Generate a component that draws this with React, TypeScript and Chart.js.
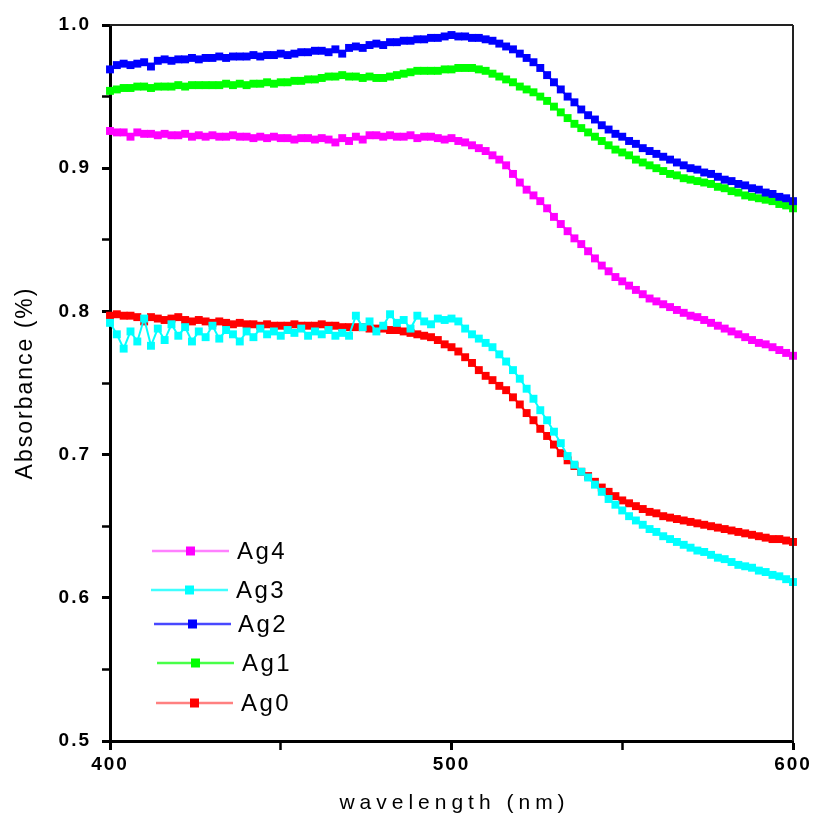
import React, { useEffect, useRef } from "react";
import { Chart, registerables } from "chart.js";

Chart.register(...registerables);

// ---------- data ----------
const WAVELENGTHS: number[] = Array.from({ length: 101 }, (_, i) => 400 + i * 2);

const SERIES_LABELS = ["Ag4", "Ag3", "Ag2", "Ag1", "Ag0"];
const SERIES_COLORS = ["#ff00ff", "#00ffff", "#0000ff", "#00ff00", "#ff0000"];
const LEGEND_LINE_COLORS = ["#ff80ff", "#40ffff", "#4848ff", "#48ff48", "#ff8080"];

const AG4 = [
  0.926, 0.925, 0.925, 0.922, 0.925, 0.924, 0.924, 0.923, 0.924, 0.923,
  0.923, 0.924, 0.922, 0.923, 0.922, 0.923, 0.922, 0.922, 0.923, 0.922,
  0.922, 0.921, 0.922, 0.921, 0.922, 0.921, 0.921, 0.920, 0.921, 0.921,
  0.920, 0.921, 0.920, 0.918, 0.921, 0.919, 0.922, 0.920, 0.923, 0.923,
  0.922, 0.923, 0.922, 0.922, 0.923, 0.921, 0.922, 0.922, 0.921, 0.920,
  0.921, 0.919, 0.918, 0.916, 0.914, 0.912, 0.909, 0.906, 0.902, 0.896,
  0.890, 0.885, 0.881, 0.877, 0.872, 0.866, 0.861, 0.856, 0.851, 0.847,
  0.842, 0.837, 0.832, 0.828, 0.824, 0.821, 0.818, 0.815, 0.812, 0.809,
  0.807, 0.805, 0.803, 0.801, 0.799, 0.797, 0.796, 0.794, 0.792, 0.790,
  0.788, 0.786, 0.784, 0.782, 0.780, 0.778, 0.777, 0.775, 0.773, 0.771,
  0.769,
];

const AG3 = [
  0.792, 0.784, 0.774, 0.786, 0.779, 0.795, 0.776, 0.788, 0.780, 0.791,
  0.783, 0.789, 0.779, 0.786, 0.782, 0.790, 0.781, 0.787, 0.784, 0.779,
  0.786, 0.782, 0.788, 0.784, 0.786, 0.783, 0.787, 0.785, 0.788, 0.783,
  0.786, 0.784, 0.787, 0.783, 0.785, 0.783, 0.797, 0.789, 0.793, 0.786,
  0.790, 0.798, 0.792, 0.794, 0.788, 0.797, 0.793, 0.791, 0.795, 0.794,
  0.795, 0.793, 0.788, 0.784, 0.781, 0.778, 0.775, 0.770, 0.765, 0.759,
  0.753, 0.746, 0.739, 0.731, 0.724, 0.716, 0.708, 0.699, 0.693, 0.688,
  0.684, 0.679, 0.674, 0.669, 0.665, 0.661, 0.657, 0.654, 0.651, 0.648,
  0.646, 0.643, 0.641, 0.639, 0.637, 0.635, 0.633, 0.632, 0.630, 0.628,
  0.627, 0.625, 0.623, 0.622, 0.621, 0.619, 0.618, 0.616, 0.615, 0.613,
  0.611,
];

const AG2 = [
  0.969, 0.972, 0.973, 0.972, 0.973, 0.974, 0.971, 0.975, 0.976, 0.975,
  0.976, 0.976, 0.977, 0.976, 0.977, 0.977, 0.978, 0.977, 0.978, 0.978,
  0.978, 0.979, 0.978, 0.979, 0.979, 0.980, 0.979, 0.980, 0.981, 0.981,
  0.982, 0.982, 0.981, 0.983, 0.980, 0.984, 0.985, 0.984, 0.986, 0.987,
  0.986, 0.988, 0.988, 0.989, 0.989, 0.990, 0.990, 0.991, 0.991, 0.992,
  0.993, 0.992, 0.992, 0.991, 0.991, 0.990, 0.989, 0.987, 0.985, 0.983,
  0.980, 0.977, 0.974, 0.970, 0.965, 0.960, 0.955, 0.950, 0.946, 0.941,
  0.937, 0.934, 0.930, 0.927, 0.924, 0.922, 0.919, 0.917, 0.914, 0.912,
  0.910, 0.908, 0.906, 0.904, 0.902, 0.900, 0.899, 0.897, 0.896, 0.894,
  0.892, 0.891, 0.889, 0.888, 0.886, 0.885, 0.883, 0.882, 0.880, 0.879,
  0.877,
];

const AG1 = [
  0.954, 0.955, 0.956, 0.956, 0.957, 0.957, 0.956, 0.957, 0.957, 0.957,
  0.958, 0.957, 0.958, 0.958, 0.958, 0.958, 0.958, 0.959, 0.958, 0.959,
  0.958, 0.959, 0.959, 0.960, 0.959, 0.960, 0.960, 0.961, 0.961, 0.962,
  0.962, 0.963, 0.964, 0.964, 0.965, 0.964, 0.964, 0.963, 0.964, 0.963,
  0.963, 0.964, 0.965, 0.966, 0.967, 0.968, 0.968, 0.968, 0.968, 0.969,
  0.969, 0.970, 0.970, 0.970, 0.969, 0.968, 0.966, 0.964, 0.962, 0.960,
  0.957, 0.955, 0.953, 0.950, 0.947, 0.943, 0.939, 0.935, 0.931, 0.928,
  0.925, 0.922, 0.919, 0.916, 0.913, 0.911, 0.909, 0.906, 0.904, 0.902,
  0.900, 0.898, 0.896, 0.895, 0.893, 0.892, 0.891, 0.890, 0.889, 0.887,
  0.886, 0.884, 0.883, 0.881, 0.880, 0.879, 0.878, 0.877, 0.875, 0.874,
  0.872,
];

const AG0 = [
  0.797, 0.798, 0.797, 0.797, 0.796, 0.793, 0.796, 0.795, 0.794, 0.795,
  0.796, 0.794, 0.793, 0.794, 0.793, 0.792, 0.793, 0.792, 0.791, 0.792,
  0.791, 0.791, 0.790, 0.791, 0.790, 0.790, 0.790, 0.791, 0.790, 0.790,
  0.790, 0.791, 0.790, 0.790, 0.789, 0.789, 0.789, 0.789, 0.788, 0.788,
  0.788, 0.787, 0.787, 0.786, 0.785, 0.784, 0.783, 0.782, 0.780, 0.777,
  0.775, 0.772, 0.768, 0.764, 0.759, 0.755, 0.752, 0.748, 0.745, 0.740,
  0.735, 0.729, 0.724, 0.718, 0.713, 0.707, 0.701, 0.696, 0.692, 0.688,
  0.685, 0.681, 0.677, 0.674, 0.671, 0.668, 0.666, 0.664, 0.662, 0.660,
  0.659, 0.657, 0.656, 0.655, 0.654, 0.653, 0.652, 0.651, 0.650, 0.649,
  0.648, 0.647, 0.646, 0.645, 0.644, 0.643, 0.642, 0.641, 0.641, 0.640,
  0.639,
];

const SERIES_VALUES = [AG4, AG3, AG2, AG1, AG0];

const X_MIN = 400;
const X_MAX = 600;
const X_STEP = 50;
const X_TICK_LABELS = [400, 500, 600];

const Y_MIN = 0.5;
const Y_MAX = 1.0;
const Y_STEP = 0.05;
const Y_TICK_LABELS = [0.5, 0.6, 0.7, 0.8, 0.9, 1.0];

const X_TITLE = "wavelength (nm)";
const Y_TITLE = "Absorbance (%)";

// legend placement (pixels relative to the plot area's top-left corner)
const LEGEND_LAYOUT = [
  { x0: 42, x1: 119, tx: 127, dy: 526 },
  { x0: 41, x1: 118, tx: 126, dy: 565 },
  { x0: 44, x1: 121, tx: 128, dy: 599 },
  { x0: 47, x1: 124, tx: 132, dy: 638 },
  { x0: 46, x1: 123, tx: 131, dy: 678 },
];

const FONT = "'Liberation Sans', Arial, Helvetica, sans-serif";

const isLabelled = (v: number, labels: number[]) =>
  labels.some((l) => Math.abs(l - v) < 1e-6);

const framePlugin = {
  id: "frameAndLegend",
  beforeDraw(chart: any) {
    chart.ctx.letterSpacing = "2px";
  },
  afterDraw(chart: any) {
    const ctx = chart.ctx as CanvasRenderingContext2D;
    const xs = chart.scales.x;
    const ys = chart.scales.y;
    const left = xs.getPixelForValue(X_MIN);
    const right = xs.getPixelForValue(X_MAX);
    const top = ys.getPixelForValue(Y_MAX);
    const bottom = ys.getPixelForValue(Y_MIN);
    ctx.save();
    (ctx as any).letterSpacing = "0px";
    // top and right frame lines
    ctx.strokeStyle = "#222";
    ctx.lineWidth = 2;
    ctx.beginPath();
    ctx.moveTo(left, top);
    ctx.lineTo(right, top);
    ctx.stroke();
    ctx.beginPath();
    ctx.moveTo(right, top);
    ctx.lineTo(right, bottom);
    ctx.stroke();

    // x-axis title (wide letter spacing)
    ctx.fillStyle = "#000";
    (ctx as any).letterSpacing = "5px";
    ctx.font = `21px ${FONT}`;
    ctx.textAlign = "center";
    ctx.textBaseline = "middle";
    ctx.fillText(X_TITLE, (left + right) / 2 + 3, chart.height - 15);

    // legend
    chart.data.datasets.forEach((ds: any, i: number) => {
      const pos = LEGEND_LAYOUT[i];
      const y = top + pos.dy;
      const x0 = left + pos.x0;
      const x1 = left + pos.x1;
      ctx.strokeStyle = LEGEND_LINE_COLORS[i];
      ctx.lineWidth = 2.5;
      ctx.beginPath();
      ctx.moveTo(x0, y);
      ctx.lineTo(x1, y);
      ctx.stroke();
      const mx = (x0 + x1) / 2;
      ctx.fillStyle = ds.backgroundColor;
      ctx.fillRect(mx - 4.5, y - 4.5, 9, 9);
      ctx.fillStyle = "#000";
      (ctx as any).letterSpacing = "2.5px";
      ctx.font = `24px ${FONT}`;
      ctx.textAlign = "left";
      ctx.textBaseline = "middle";
      ctx.fillText(ds.label, left + pos.tx, y + 1);
    });
    ctx.restore();
    (ctx as any).letterSpacing = "0px";
  },
};

export default function App() {
  const canvasRef = useRef<HTMLCanvasElement | null>(null);

  useEffect(() => {
    document.body.style.margin = "0";
    const canvas = canvasRef.current;
    if (!canvas) return;

    const datasets = SERIES_LABELS.map((label, i) => ({
      label,
      data: WAVELENGTHS.map((x, j) => ({ x, y: SERIES_VALUES[i][j] })),
      borderColor: SERIES_COLORS[i],
      backgroundColor: SERIES_COLORS[i],
      borderWidth: 2,
      pointStyle: "rect" as const,
      pointRadius: 5.6,
      pointBorderWidth: 0,
      pointBackgroundColor: SERIES_COLORS[i],
      tension: 0,
      clip: 4,
    }));

    const chart = new Chart(canvas, {
      type: "line",
      data: { datasets },
      options: {
        responsive: false,
        animation: false,
        events: [],
        layout: { padding: { top: 25, right: 22, left: 0, bottom: 0 } },
        plugins: {
          legend: { display: false },
          tooltip: { enabled: false },
        },
        scales: {
          x: {
            type: "linear",
            min: X_MIN,
            max: X_MAX,
            afterFit: (scale: any) => {
              scale.height = 77;
            },
            ticks: {
              stepSize: X_STEP,
              autoSkip: false,
              maxRotation: 0,
              padding: 3,
              color: "#000",
              font: { family: FONT, size: 19, weight: "bold" },
              callback: (v: any) => (isLabelled(Number(v), X_TICK_LABELS) ? String(v) : ""),
            },
            grid: {
              drawOnChartArea: false,
              color: "#000",
              tickLength: 9,
              tickWidth: (c: any) => (c.tick && isLabelled(c.tick.value, X_TICK_LABELS) ? 3 : 2.5),
            },
            border: { display: true, color: "#000", width: 3 },
            title: { display: false, text: X_TITLE },
          },
          y: {
            type: "linear",
            min: Y_MIN,
            max: Y_MAX,
            afterFit: (scale: any) => {
              scale.width = 110;
            },
            ticks: {
              stepSize: Y_STEP,
              autoSkip: false,
              padding: 11,
              color: "#000",
              font: { family: FONT, size: 19, weight: "bold" },
              callback: (v: any) =>
                isLabelled(Number(v), Y_TICK_LABELS) ? Number(v).toFixed(1) : "",
            },
            grid: {
              drawOnChartArea: false,
              color: "#000",
              tickLength: 8,
              tickWidth: (c: any) => (c.tick && isLabelled(c.tick.value, Y_TICK_LABELS) ? 3 : 2.5),
            },
            border: { display: true, color: "#000", width: 3 },
            title: {
              display: true,
              text: Y_TITLE,
              color: "#000",
              font: { family: FONT, size: 23 },
              padding: { top: 12, bottom: 0 },
            },
          },
        },
      },
      plugins: [framePlugin],
    });

    return () => chart.destroy();
  }, []);

  return (
    <div style={{ width: 815, height: 818 }}>
      <canvas ref={canvasRef} width={815} height={818} style={{ display: "block" }} />
    </div>
  );
}
